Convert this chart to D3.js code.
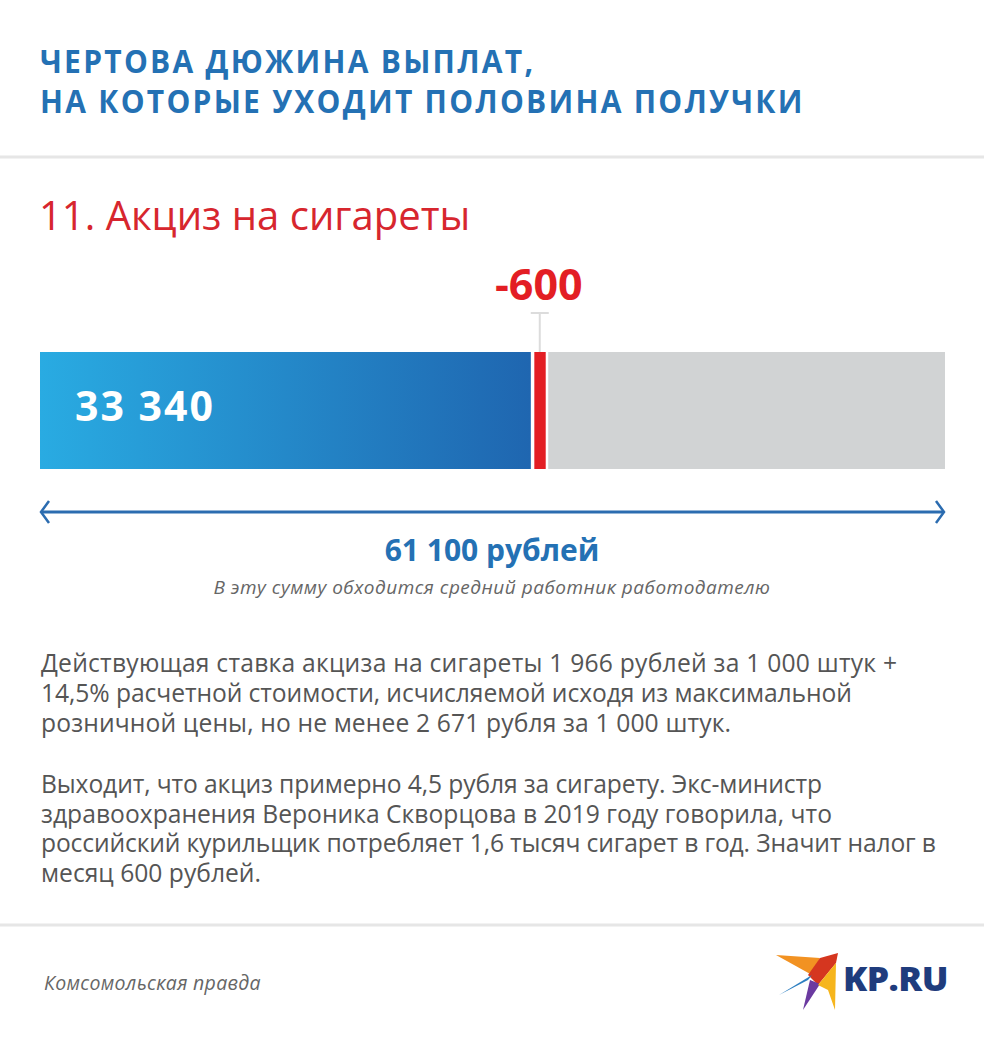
<!DOCTYPE html>
<html><head><meta charset="utf-8">
<script src="https://cdn.jsdelivr.net/npm/d3@7"></script>
<style>body{margin:0;background:#fff}svg{display:block}</style>
</head><body>
<script>
const titleLines = ["ЧЕРТОВА ДЮЖИНА ВЫПЛАТ,", "НА КОТОРЫЕ УХОДИТ ПОЛОВИНА ПОЛУЧКИ"];
const subtitle = "11. Акциз на сигареты";
const total = 61100;
const categories = ["Остаток", "Акциз на сигареты", "Прочее"];
const values = [33340, 600, 27160];
const valueLabels = ["33 340", "-600"];
const totalLabel = "61 100 рублей";
const totalNote = "В эту сумму обходится средний работник работодателю";
const bodyPara1 = ["Действующая ставка акциза на сигареты 1 966 рублей за 1 000 штук +",
  "14,5% расчетной стоимости, исчисляемой исходя из максимальной",
  "розничной цены, но не менее 2 671 рубля за 1 000 штук."];
const bodyPara2 = ["Выходит, что акциз примерно 4,5 рубля за сигарету. Экс-министр",
  "здравоохранения Вероника Скворцова в 2019 году говорила, что",
  "российский курильщик потребляет 1,6 тысяч сигарет в год. Значит налог в",
  "месяц 600 рублей."];
const source = "Комсомольская правда";
const logoText = "KP.RU";

// layout: right edge of each body line in the reference (pixels)
const bodyLineEnds1 = [897, 852, 731];
const bodyLineEnds2 = [822, 832, 936, 261];

const W = 984, H = 1044;
const svg = d3.select("body").append("svg").attr("width", W).attr("height", H);
const defs = svg.append("defs");
const grad = defs.append("linearGradient").attr("id","bg").attr("x1","0").attr("x2","1");
grad.append("stop").attr("offset","0").attr("stop-color","#29abe2");
grad.append("stop").attr("offset","1").attr("stop-color","#1f66b0");

function fitX(sel, x0, target) {
  const w = sel.node().getComputedTextLength();
  const k = target / w;
  sel.attr("transform", `translate(${x0},0) scale(${k},1) translate(${-x0},0)`);
  return k;
}

// title
const tG = svg.append("g");
const tt = tG.selectAll("text").data(titleLines).join("text")
  .attr("x", 40).attr("y", (d,i)=>73 + i*40)
  .attr("font-family","'Open Sans', sans-serif").attr("font-weight",700)
  .attr("font-size",32).attr("letter-spacing",2.4).attr("fill","#2471b4")
  .text(d=>d);
const k2 = 765 / tt.nodes()[1].getComputedTextLength();
tt.attr("transform", `translate(40,0) scale(${k2},1) translate(-40,0)`);

// separators
[157, 925].forEach(y=>svg.append("rect").attr("x",0).attr("y",y-1.5).attr("width",W).attr("height",3).attr("fill","#e6e6e6"));

svg.append("text").attr("x",39).attr("y",230).attr("font-family","'Open Sans', sans-serif")
  .attr("font-size",40).attr("fill","#d7262e").text(subtitle);

// scale
const x = d3.scaleLinear().domain([0,total]).range([40,945]);
const barY = 352, barH = 117;
const c1 = values[0], c2 = values[0]+values[1];
svg.append("rect").attr("x",x(0)).attr("y",barY).attr("width",x(c1)-3-x(0)).attr("height",barH).attr("fill","url(#bg)");
svg.append("rect").attr("x",x(c1)+0.5).attr("y",barY).attr("width",x(c2)-x(c1)+2.5).attr("height",barH).attr("fill","#e31e24");
svg.append("rect").attr("x",x(c2)+5.5).attr("y",barY).attr("width",x(total)-x(c2)-5.5).attr("height",barH).attr("fill","#d1d3d4");

// tick to -600
const mx = (x(c1)+x(c2))/2+1.5;
svg.append("line").attr("x1",mx).attr("x2",mx).attr("y1",313).attr("y2",barY).attr("stroke","#dcdcdc").attr("stroke-width",2);
svg.append("line").attr("x1",mx-9).attr("x2",mx+9).attr("y1",313).attr("y2",313).attr("stroke","#dcdcdc").attr("stroke-width",2);
svg.append("text").attr("x",mx-1).attr("y",300).attr("text-anchor","middle")
  .attr("font-family","'Open Sans', sans-serif").attr("font-weight",700).attr("font-size",43)
  .attr("fill","#e31e24").text(valueLabels[1]);

svg.append("text").attr("x",75).attr("y",421)
  .attr("font-family","'Open Sans', sans-serif").attr("font-weight",700).attr("font-size",41)
  .attr("letter-spacing",2).attr("fill","#fff").text(valueLabels[0]);

// arrow
const ay = 512;
const arrowC = "#2b6cb0";
svg.append("line").attr("x1",x(0)+1).attr("x2",x(total)-1).attr("y1",ay).attr("y2",ay).attr("stroke",arrowC).attr("stroke-width",3);
svg.append("path").attr("d",`M${x(0)+9},${ay-11}L${x(0)+1},${ay}L${x(0)+9},${ay+11}`).attr("fill","none").attr("stroke",arrowC).attr("stroke-width",2.5);
svg.append("path").attr("d",`M${x(total)-9},${ay-11}L${x(total)-1},${ay}L${x(total)-9},${ay+11}`).attr("fill","none").attr("stroke",arrowC).attr("stroke-width",2.5);

svg.append("text").attr("x",492).attr("y",561).attr("text-anchor","middle")
  .attr("font-family","'Open Sans', sans-serif").attr("font-weight",700).attr("font-size",30)
  .attr("fill","#2471b4").text(totalLabel);
svg.append("text").attr("x",492).attr("y",594).attr("text-anchor","middle")
  .attr("font-family","'Open Sans', sans-serif").attr("font-style","italic").attr("font-size",19)
  .attr("letter-spacing",0.5).attr("fill","#666").text(totalNote);

// body
const bodyG = svg.append("g").attr("font-family","'Open Sans', sans-serif").attr("font-size",22.5).attr("fill","#555");
const lines = bodyPara1.map((t,i)=>({t, y:672+i*30, end:bodyLineEnds1[i]}))
  .concat(bodyPara2.map((t,i)=>({t, y:793+i*29.5, end:bodyLineEnds2[i]})));
const bt = bodyG.selectAll("text").data(lines).join("text")
  .attr("x",41).attr("y",d=>d.y).text(d=>d.t);
// choose font size so glyphs match on average, then fine-tune spacing per line
const ratios = bt.nodes().slice(0,6).map((n,i)=>(lines[i].end-41)/n.getComputedTextLength());
const fs = 22.5 * d3.mean(ratios);
bodyG.attr("font-size", fs);
bt.attr("textLength", d=>d.end-41).attr("lengthAdjust","spacing");

svg.append("text").attr("x",44).attr("y",990)
  .attr("font-family","'Open Sans', sans-serif").attr("font-style","italic").attr("font-size",19.5)
  .attr("letter-spacing",0.3).attr("fill","#666").text(source);

// logo bird
const lg = svg.append("g");
lg.append("path").attr("d","M776,955 L820,958 L812,975 Z").attr("fill","#f29222");
lg.append("path").attr("d","M820,958 L838,953 L836,963 L818,985 L808,975 Z").attr("fill","#d5361f");
lg.append("path").attr("d","M812,975 L779,995 L808,980 Z").attr("fill","#2d7fc1");
lg.append("path").attr("d","M810,980 L803,1010 L820,984 Z").attr("fill","#6b3aa0");
lg.append("path").attr("d","M818,985 L836,963 L835,1010 L828,990 Z").attr("fill","#f6b51c");
const lt = lg.append("text").attr("x",843).attr("y",991).attr("font-family","'Open Sans', sans-serif")
  .attr("font-weight",800).attr("font-size",33).attr("letter-spacing",-0.5).attr("fill","#1f3c7d").text(logoText);
fitX(lt, 843, 105);
</script>
</body></html>
